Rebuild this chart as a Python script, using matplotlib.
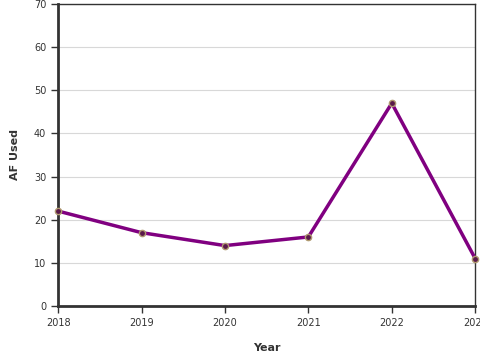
import matplotlib
matplotlib.use("Agg")
import matplotlib.pyplot as plt

years = [2018, 2019, 2020, 2021, 2022, 2023]
af_used = [22, 17, 14, 16, 47, 11]
y_ticks = [0, 10, 20, 30, 40, 50, 60, 70]

fig = plt.figure(figsize=(4.8, 3.6), dpi=100)
ax = fig.add_axes([0.121, 0.150, 0.869, 0.839])

ax.plot(years, af_used, color="#800080", linewidth=2.5, zorder=3,
        marker="o", markersize=4.5, markerfacecolor="#5a1a4a",
        markeredgecolor="#b09a70", markeredgewidth=1.0, clip_on=False)

ax.set_xlim(2018, 2023)
ax.set_ylim(0, 70)
ax.set_xticks(years)
ax.set_yticks(y_ticks)
ax.yaxis.grid(True, color="#d8d8d8", linewidth=0.8)
ax.set_axisbelow(True)

for side in ["left", "bottom"]:
    ax.spines[side].set_linewidth(2)
    ax.spines[side].set_color("#333333")
for side in ["top", "right"]:
    ax.spines[side].set_linewidth(1)
    ax.spines[side].set_color("#333333")

ax.tick_params(axis="both", labelsize=7, colors="#333333", length=5, width=1)
ax.set_xlabel("Year", fontsize=8, fontweight="bold", color="#333333", labelpad=11)
ax.set_ylabel("AF Used", fontsize=8, fontweight="bold", color="#333333", labelpad=10)

fig.savefig("out.png", dpi=100)
